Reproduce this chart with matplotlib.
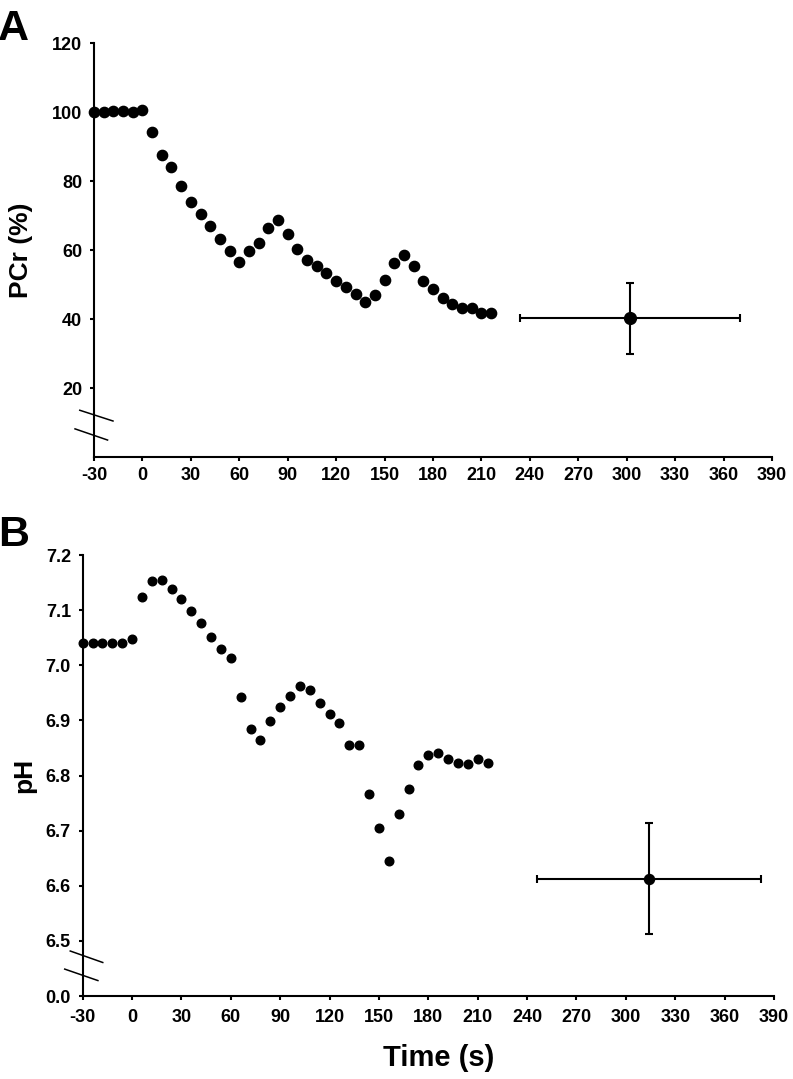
import matplotlib
matplotlib.use('Agg')
import matplotlib.pyplot as plt
from matplotlib.lines import Line2D

plt.rcParams['font.family'] = ['Liberation Sans', 'DejaVu Sans']
plt.rcParams['font.weight'] = 'bold'
plt.rcParams['axes.unicode_minus'] = False

# sampling times (s), same for both panels
time_s = [-30, -24, -18, -12, -6, 0, 6, 12, 18, 24, 30, 36, 42, 48, 54, 60,
          66, 72, 78, 84, 90, 96, 102, 108, 114, 120, 126, 132, 138, 144, 150,
          156, 162, 168, 174, 180, 186, 192, 198, 204, 210, 216]

pcr = [100.0, 100.1, 100.4, 100.4, 100.1, 100.6, 94.4, 87.5, 84.0, 78.7, 74.0,
       70.4, 67.0, 63.2, 59.7, 56.6, 59.7, 62.1, 66.5, 68.8, 64.6, 60.2, 57.2,
       55.5, 53.3, 51.0, 49.4, 47.2, 44.9, 47.0, 51.4, 56.3, 58.7, 55.3, 51.1,
       48.7, 46.2, 44.3, 43.1, 43.3, 41.9, 41.9]

ph = [7.041, 7.041, 7.041, 7.040, 7.040, 7.047, 7.123, 7.153, 7.155, 7.138,
      7.120, 7.098, 7.076, 7.052, 7.030, 7.013, 6.943, 6.885, 6.864, 6.899,
      6.925, 6.945, 6.963, 6.956, 6.932, 6.911, 6.895, 6.856, 6.855, 6.766,
      6.705, 6.645, 6.731, 6.775, 6.819, 6.837, 6.841, 6.830, 6.822, 6.821,
      6.830, 6.822]

# end-of-recovery point (mean +/- sd in time and value)
pcr_end_t, pcr_end_terr = 302, 68
pcr_end, pcr_end_err = 40.2, 10.2
ph_end_t, ph_end_terr = 314, 68
ph_end, ph_end_err = 6.613, 0.101

x_ticks = list(range(-30, 391, 30))
pcr_ticks = [20, 40, 60, 80, 100, 120]
ph_ticks = [6.4, 6.5, 6.6, 6.7, 6.8, 6.9, 7.0, 7.1, 7.2]
ph_ticklabels = ['0.0', '6.5', '6.6', '6.7', '6.8', '6.9', '7.0', '7.1', '7.2']

W, H = 793, 1079
fig = plt.figure(figsize=(W / 100, H / 100), dpi=100)


def axes_px(left, top, right, bottom):
    return fig.add_axes([left / W, 1 - bottom / H, (right - left) / W, (bottom - top) / H])


def style(ax, xpad):
    for s in ('top', 'right'):
        ax.spines[s].set_visible(False)
    for s in ('left', 'bottom'):
        ax.spines[s].set_linewidth(1.5)
    ax.tick_params(direction='out', length=3, width=1.5, labelsize=13)
    ax.tick_params(axis='y', pad=5.5)
    ax.tick_params(axis='x', pad=xpad)
    ax.set_xlim(-30, 390)
    ax.set_xticks(x_ticks)


def axis_break(ax, segs):
    for (x0, y0), (x1, y1) in segs:
        ax.add_line(Line2D([x0, x1], [y0, y1], transform=ax.transAxes,
                           color='black', lw=1.1, clip_on=False))


# Panel A
axA = axes_px(94, 43.3, 772, 457)
style(axA, 4)
axA.set_ylim(0, 120)
axA.set_yticks(pcr_ticks)
axA.plot(time_s, pcr, 'o', color='black', ms=7.4, clip_on=False)
axA.errorbar(pcr_end_t, pcr_end, xerr=pcr_end_terr, yerr=pcr_end_err, fmt='o',
             color='black', ms=8.5, elinewidth=1.5, capsize=3, capthick=1.5)
axA.set_ylabel('PCr (%)', fontsize=19, fontweight='bold')
axA.yaxis.label.set_va('center')
axA.yaxis.set_label_coords(-0.108, 0.5)
axis_break(axA, [((-0.021, 0.113), (0.028, 0.087)), ((-0.028, 0.068), (0.020, 0.041))])

# Panel B
axB = axes_px(82.7, 555, 774, 996)
style(axB, 6)
axB.set_ylim(6.4, 7.2)
axB.set_yticks(ph_ticks)
axB.set_yticklabels(ph_ticklabels)
axB.plot(time_s, ph, 'o', color='black', ms=6.2, clip_on=False)
axB.errorbar(ph_end_t, ph_end, xerr=ph_end_terr, yerr=ph_end_err, fmt='o',
             color='black', ms=7.2, elinewidth=1.5, capsize=3, capthick=1.5)
axB.set_ylabel('pH', fontsize=19, fontweight='bold')
axB.yaxis.label.set_va('center')
axB.yaxis.set_label_coords(-0.085, 0.5)
axB.set_xlabel('Time (s)', fontsize=21, fontweight='bold')
axB.xaxis.label.set_va('center')
axB.xaxis.set_label_coords(0.515, -0.141)
axis_break(axB, [((-0.018, 0.102), (0.029, 0.076)), ((-0.026, 0.061), (0.022, 0.035))])

fig.text(-0.002, 1 - 39.5 / H, 'A', fontsize=31, fontweight='bold', ha='left', va='baseline')
fig.text(-0.002, 1 - 546 / H, 'B', fontsize=31, fontweight='bold', ha='left', va='baseline')

fig.savefig('out.png', dpi=100)
